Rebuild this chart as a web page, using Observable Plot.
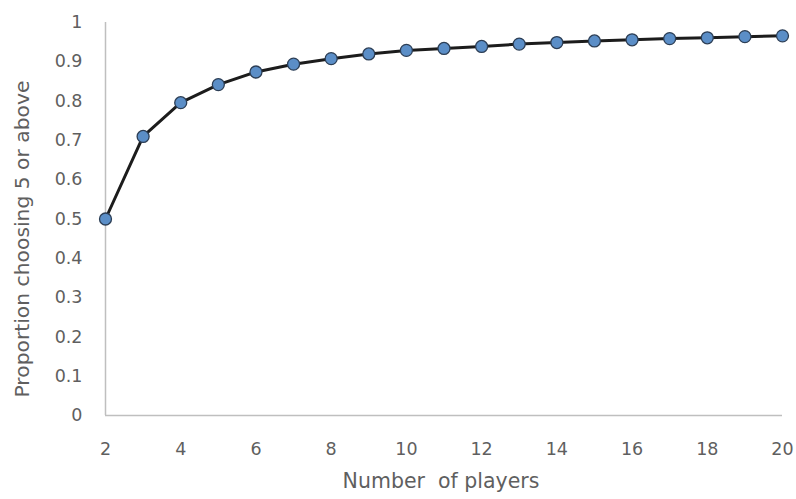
<!DOCTYPE html>
<html>
<head>
<meta charset="utf-8">
<script src="https://cdn.jsdelivr.net/npm/d3@7"></script>
<script src="https://cdn.jsdelivr.net/npm/@observablehq/plot@0.6"></script>
<style>
  html, body { margin: 0; padding: 0; background: #fff; }
</style>
</head>
<body>
<div id="chart"></div>
<script>
const players = [2, 3, 4, 5, 6, 7, 8, 9, 10, 11, 12, 13, 14, 15, 16, 17, 18, 19, 20];
const proportion = [0.5, 0.71, 0.796, 0.842, 0.874, 0.894, 0.908, 0.92, 0.929, 0.934, 0.939, 0.945, 0.949, 0.953, 0.956, 0.959, 0.961, 0.964, 0.966];
const xTicks = [2, 4, 6, 8, 10, 12, 14, 16, 18, 20];
const yTicks = [0, 0.1, 0.2, 0.3, 0.4, 0.5, 0.6, 0.7, 0.8, 0.9, 1];
const xTitle = "Number\u00a0 of players";
const yTitle = "Proportion choosing 5 or above";

const data = players.map((p, i) => ({players: p, proportion: proportion[i]}));

const chart = Plot.plot({
  width: 796,
  height: 499,
  marginLeft: 105,
  marginRight: 14,
  marginTop: 22,
  marginBottom: 84,
  style: {fontFamily: "'DejaVu Sans', sans-serif", fontSize: "17.5px", color: "#5f5f5f", background: "#fff"},
  x: {domain: [2, 20]},
  y: {domain: [0, 1]},
  marks: [
    Plot.ruleY([0], {stroke: "#bfbfbf", strokeWidth: 1.5}),
    Plot.ruleX([2], {stroke: "#bfbfbf", strokeWidth: 1.5}),
    Plot.axisX({ticks: xTicks, tickSize: 0, tickPadding: 27, label: null, tickFormat: d => String(d)}),
    Plot.axisY({ticks: yTicks, tickSize: 0, tickPadding: 23, label: null, tickFormat: d => String(d)}),
    Plot.text([xTitle], {frameAnchor: "bottom", dx: -3, dy: 72, fontSize: 20.5, fill: "#5f5f5f"}),
    Plot.text([yTitle], {frameAnchor: "left", textAnchor: "middle", rotate: -90, dx: -83, dy: 20, fontSize: 20.3, fill: "#5f5f5f"}),
    Plot.line(data, {x: "players", y: "proportion", stroke: "#1c1c1c", strokeWidth: 3}),
    Plot.dot(data, {x: "players", y: "proportion", r: 6, fill: "#5b8ec7", stroke: "#2c3e55", strokeWidth: 1.3})
  ]
});
document.getElementById("chart").appendChild(chart);
</script>
</body>
</html>
